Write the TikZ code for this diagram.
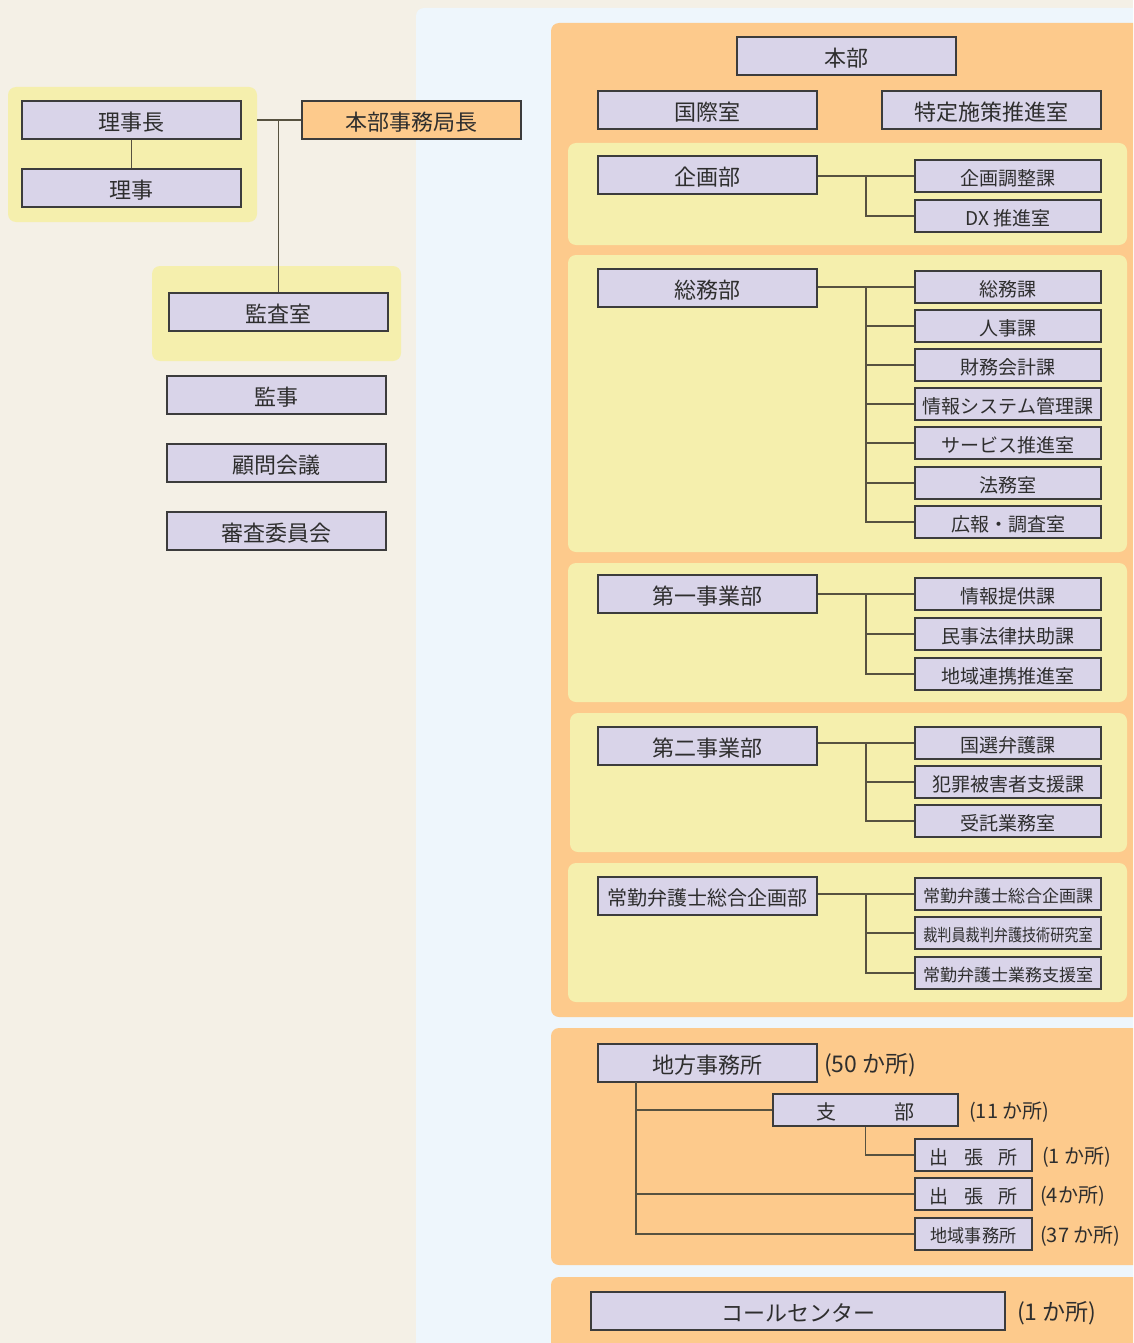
\documentclass[tikz,border=0pt]{standalone}
\usepackage{fontspec}
\setmainfont{Noto Sans CJK JP}
\usetikzlibrary{calc}

\definecolor{bgbeige}{HTML}{F4F0E6}
\definecolor{bgblue}{HTML}{EEF6FC}
\definecolor{panelorange}{HTML}{FDCA8C}
\definecolor{groupyellow}{HTML}{F5EFAD}
\definecolor{boxlav}{HTML}{D9D4E9}
\definecolor{boxline}{HTML}{3C3C3C}
\definecolor{connline}{HTML}{575240}
\definecolor{txt}{HTML}{2E2E2E}

% label text, set slightly below the optical centre of its box
\newcommand\lbl[1]{\raisebox{-2pt}[\height][\depth]{#1}}
\newcommand\fs[1]{\fontsize{#1}{#1}\selectfont}

\tikzset{
  unit/.style={draw=boxline, line width=1.1pt, fill=boxlav, inner sep=0pt, text=txt},
  bigbox/.style={unit, minimum width=219, minimum height=38, font=\fs{22}},
  subbox/.style={unit, minimum width=186, minimum height=32, font=\fs{19}},
  smallbox/.style={unit, minimum width=117, minimum height=32, font=\fs{19}},
  count/.style={anchor=west, inner sep=0pt, text=txt, font=\fs{20}},
  conn/.style={draw=connline, line width=1.2pt},
  yellowgroup/.style={fill=groupyellow, rounded corners=8},
  orangepanel/.style={fill=panelorange, rounded corners=8},
}

\begin{document}
\begin{tikzpicture}[x=1pt,y=-1pt]
\clip (0,0) rectangle (1133,1343);

% backgrounds
\fill[bgbeige] (0,0) rectangle (1133,1343);
\fill[bgblue, rounded corners=8] (416,8) rectangle (1160,1370);

% ---------------- left side: board ----------------
\fill[yellowgroup] (8,87) rectangle (257,222);
\fill[yellowgroup] (152,266) rectangle (401,361);

\node[bigbox] (rijicho) at (131.5,120) {\lbl{理事長}};
\node[bigbox] (riji)    at (131.5,188) {\lbl{理事}};
\node[bigbox, fill=panelorange] (jimukyokucho) at (411.5,120) {\lbl{本部事務局長}};
\node[bigbox] (kansashitsu) at (278.5,312) {\lbl{監査室}};
\node[bigbox] (kanji)  at (276.5,395) {\lbl{監事}};
\node[bigbox] (komon)  at (276.5,463) {\lbl{顧問会議}};
\node[bigbox] (shinsa) at (276.5,531) {\lbl{審査委員会}};

\coordinate (boardedge) at (257,120);
\coordinate (boardbus)  at (278.5,120);
\draw[conn] (rijicho.south) -- (riji.north);
\draw[conn] (boardedge) -- (jimukyokucho.west);
\draw[conn] (boardbus) -- (kansashitsu.north);

% ---------------- headquarters ----------------
\fill[orangepanel] (551,23) rectangle (1160,1017);

\node[bigbox] (honbu)   at (846.5,56)  {\lbl{本部}};
\node[bigbox] (kokusai) at (707.5,110) {\lbl{国際室}};
\node[bigbox] (tokutei) at (991.5,110) {\lbl{特定施策推進室}};

% planning department
\fill[yellowgroup] (568,143) rectangle (1127,245);
\node[bigbox] (kikakubu) at (707.5,175) {\lbl{企画部}};
\node[subbox] (kikaku1) at (1008,176) {\lbl{企画調整課}};
\node[subbox] (kikaku2) at (1008,216) {\lbl{DX 推進室}};
\coordinate (kbus) at (866,176);
\draw[conn] (kikakubu.east |- kikaku1.west) -- (kikaku1.west);
\draw[conn] (kbus) |- (kikaku2.west);

% general affairs department
\fill[yellowgroup] (568,255) rectangle (1127,552);
\node[bigbox] (somubu) at (707.5,288) {\lbl{総務部}};
\node[subbox] (somu1) at (1008,287) {\lbl{総務課}};
\node[subbox] (somu2) at (1008,326) {\lbl{人事課}};
\node[subbox] (somu3) at (1008,365) {\lbl{財務会計課}};
\node[subbox] (somu4) at (1008,404) {\lbl{情報システム管理課}};
\node[subbox] (somu5) at (1008,443) {\lbl{サービス推進室}};
\node[subbox] (somu6) at (1008,483) {\lbl{法務室}};
\node[subbox] (somu7) at (1008,522) {\lbl{広報・調査室}};
\coordinate (sbus) at (866,287);
\draw[conn] (somubu.east |- somu1.west) -- (somu1.west);
\foreach \k in {2,...,7} { \draw[conn] (sbus) |- (somu\k.west); }

% first operations department
\fill[yellowgroup] (568,563) rectangle (1127,702);
\node[bigbox] (daiichi) at (707.5,594) {\lbl{第一事業部}};
\node[subbox] (ichi1) at (1008,594) {\lbl{情報提供課}};
\node[subbox] (ichi2) at (1008,634) {\lbl{民事法律扶助課}};
\node[subbox] (ichi3) at (1008,674) {\lbl{地域連携推進室}};
\coordinate (ibus) at (866,594);
\draw[conn] (daiichi.east |- ichi1.west) -- (ichi1.west);
\foreach \k in {2,3} { \draw[conn] (ibus) |- (ichi\k.west); }

% second operations department
\fill[yellowgroup] (570,713) rectangle (1127,852);
\node[bigbox] (daini) at (707.5,746) {\lbl{第二事業部}};
\node[subbox] (ni1) at (1008,743) {\lbl{国選弁護課}};
\node[subbox] (ni2) at (1008,782) {\lbl{犯罪被害者支援課}};
\node[subbox] (ni3) at (1008,821) {\lbl{受託業務室}};
\coordinate (nbus) at (866,743);
\draw[conn] (daini.east |- ni1.west) -- (ni1.west);
\foreach \k in {2,3} { \draw[conn] (nbus) |- (ni\k.west); }

% staff attorney planning department
\fill[yellowgroup] (568,863) rectangle (1127,1002);
\node[bigbox, font=\fs{20}] (jokin) at (707.5,896) {\lbl{常勤弁護士総合企画部}};
\node[subbox, font=\fs{17}] (jo1) at (1008,894) {\lbl{常勤弁護士総合企画課}};
\node[subbox, font=\fs{17}] (jo2) at (1008,933) {\scalebox{0.83}[1]{\lbl{裁判員裁判弁護技術研究室}}};
\node[subbox, font=\fs{17}] (jo3) at (1008,973) {\lbl{常勤弁護士業務支援室}};
\coordinate (jbus) at (866,894);
\draw[conn] (jokin.east |- jo1.west) -- (jo1.west);
\foreach \k in {2,3} { \draw[conn] (jbus) |- (jo\k.west); }

% ---------------- regional offices ----------------
\fill[orangepanel] (551,1028) rectangle (1160,1265);
\node[bigbox] (chiho) at (707.5,1063) {\lbl{地方事務所}};
\node[count, font=\fs{23}] (chihoN) at (824,1063) {\lbl{(50 か所)}};
\node[unit, minimum width=185, minimum height=32, font=\fs{20}] (shibu) at (865.5,1110) {\lbl{支\hspace{2.9em}部}};
\node[count] (shibuN) at (969,1110) {\lbl{(11 か所)}};
\node[smallbox] (shutcho1) at (973.5,1155) {\lbl{出\hspace{0.8em}張\hspace{0.8em}所}};
\node[count] (shutcho1N) at (1042,1155) {\lbl{(1 か所)}};
\node[smallbox] (shutcho2) at (973.5,1194) {\lbl{出\hspace{0.8em}張\hspace{0.8em}所}};
\node[count] (shutcho2N) at (1040,1194) {\lbl{(4か所)}};
\node[smallbox, font=\fs{18}] (chiiki) at (973.5,1234) {\scalebox{0.95}[1]{\lbl{地域事務所}}};
\node[count] (chiikiN) at (1040,1234) {\lbl{(37 か所)}};

\coordinate (cbus) at (636,1082);
\draw[conn] (cbus) |- (shibu.west);
\draw[conn] (cbus) |- (shutcho2.west);
\draw[conn] (cbus) |- (chiiki.west);
\draw[conn] (shibu.south) |- (shutcho1.west);

% ---------------- call center ----------------
\fill[orangepanel] (551,1277) rectangle (1160,1380);
\node[unit, minimum width=414, minimum height=38, font=\fs{22}] (call) at (798,1311) {\lbl{コールセンター}};
\node[count, font=\fs{23}] (callN) at (1017,1311) {\lbl{(1 か所)}};

\end{tikzpicture}
\end{document}
